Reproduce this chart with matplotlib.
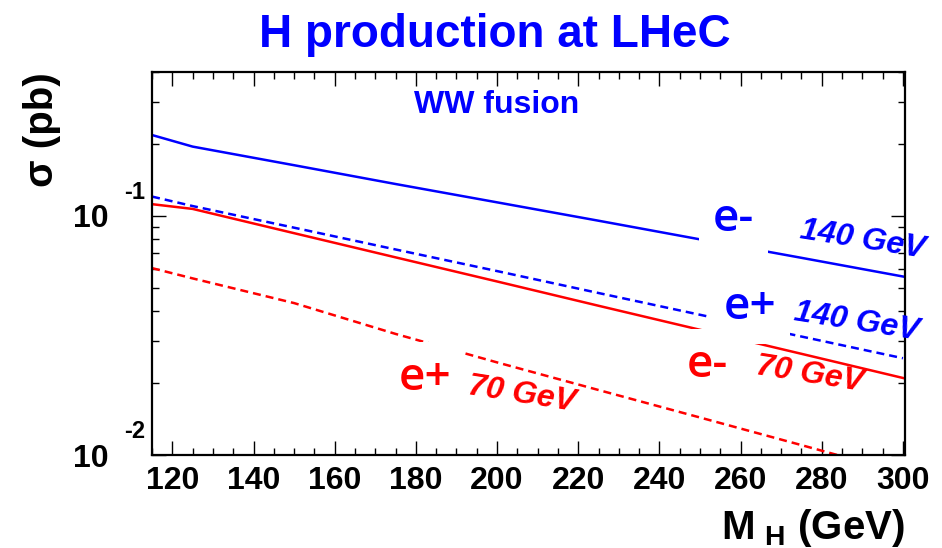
import matplotlib
matplotlib.use("Agg")
import matplotlib.pyplot as plt
from matplotlib.ticker import LogLocator, NullFormatter, MultipleLocator

# Higgs mass (GeV) and cross sections (pb)
mass = [115, 125, 150, 175, 200, 225, 250, 275, 300]
em_140 = [0.218, 0.195, 0.163, 0.136, 0.114, 0.0955, 0.0798, 0.0668, 0.0558]
ep_140 = [0.1205, 0.110, 0.0893, 0.0724, 0.0588, 0.0476, 0.0386, 0.0313, 0.0254]
em_70 = [0.112, 0.107, 0.0847, 0.0671, 0.0532, 0.0421, 0.0334, 0.0265, 0.0210]
ep_70 = [0.0605, 0.0548, 0.0432, 0.0321, 0.0244, 0.0187, 0.01435, 0.0110, 0.0084]

x_ticks = [120, 140, 160, 180, 200, 220, 240, 260, 280, 300]
y_ticks = [0.01, 0.1]
y_exps = ['-2', '-1']

plt.rcParams['font.family'] = ['Liberation Sans', 'DejaVu Sans']
plt.rcParams['font.weight'] = 'bold'
plt.rcParams['mathtext.fontset'] = 'custom'
plt.rcParams['mathtext.bf'] = 'Liberation Sans:bold'
plt.rcParams['mathtext.rm'] = 'Liberation Sans:bold'

blue = '#0000ff'
red = '#ff0000'

fig = plt.figure(figsize=(9.42, 5.48), dpi=100)
ax = fig.add_axes([0.1614, 0.1697, 0.7993, 0.6989])

dash = (0, (3.2, 2.0))
ax.plot(mass, em_140, color=blue, lw=1.8, zorder=2)
ax.plot(mass, ep_140, color=blue, lw=1.8, ls=dash, zorder=2)
ax.plot(mass, em_70, color=red, lw=1.8, zorder=2)
ax.plot(mass, ep_70, color=red, lw=1.8, ls=dash, zorder=2)

ax.set_yscale('log')
ax.set_xlim(115, 300.5)
ax.set_ylim(0.01, 0.40)

ax.set_xticks(x_ticks)
ax.xaxis.set_minor_locator(MultipleLocator(5))
ax.set_yticks(y_ticks)
ax.set_yticklabels(['10', '10'])
ax.yaxis.set_minor_locator(LogLocator(base=10, subs=range(2, 10)))
ax.yaxis.set_minor_formatter(NullFormatter())

ax.tick_params(which='both', direction='in', top=True, right=True)
ax.tick_params(which='major', length=10, width=1)
ax.tick_params(which='minor', length=5, width=1)
ax.tick_params(axis='x', labelsize=23, pad=8)
ax.tick_params(axis='y', labelsize=23, pad=31)
for s in ax.spines.values():
    s.set_linewidth(1.6)

# ROOT style exponents above the "10"
for yv, ex in zip(y_ticks, y_exps):
    ax.annotate(ex, xy=(0, yv), xycoords=('axes fraction', 'data'),
                xytext=(-5, 17), textcoords='offset points',
                ha='right', va='center', fontsize=17, fontweight='bold')

fig.text(0.5255, 0.9142, 'H production at LHeC', ha='center', va='baseline',
         fontsize=33, fontweight='bold', color=blue)
ax.text(0.457, 0.893, 'WW fusion', transform=ax.transAxes, ha='center',
        va='baseline', fontsize=23, fontweight='bold', color=blue)

ax.text(-0.146, 1.0, 'σ (pb)', transform=ax.transAxes, rotation=90,
        ha='center', va='top', fontsize=29, fontweight='bold')
ax.text(1.0, -0.136, r'$\mathbf{M}_{\ \mathbf{H}}$ (GeV)', transform=ax.transAxes,
        ha='right', va='top', fontsize=29, fontweight='bold')

# curve labels: e+/e- with white patches that cut the lines
lab_font = dict(family='Open Sans', fontsize=33, fontweight='semibold',
                ha='center', va='center', transform=ax.transAxes, zorder=4)
white = dict(boxstyle='square,pad=0.3', fc='white', ec='none')
ax.text(0.772, 0.615, 'e-', color=blue, bbox=white, **lab_font)
ax.text(0.794, 0.385, 'e+', color=blue, bbox=white, **lab_font)
ax.text(0.738, 0.235, 'e-', color=red, bbox=white, **lab_font)
ax.text(0.362, 0.200, 'e+', color=red, bbox=white, **lab_font)

gev_font = dict(fontsize=23, fontweight='bold', style='italic', ha='center',
                va='center', transform=ax.transAxes, rotation=-9, zorder=5)
ax.text(0.943, 0.561, '140 GeV', color=blue, **gev_font)
ax.text(0.935, 0.347, '140 GeV', color=blue, **gev_font)
ax.text(0.874, 0.209, '70 GeV', color=red, **gev_font)
ax.text(0.491, 0.157, '70 GeV', color=red, **gev_font)

fig.savefig('out.png', dpi=100)
